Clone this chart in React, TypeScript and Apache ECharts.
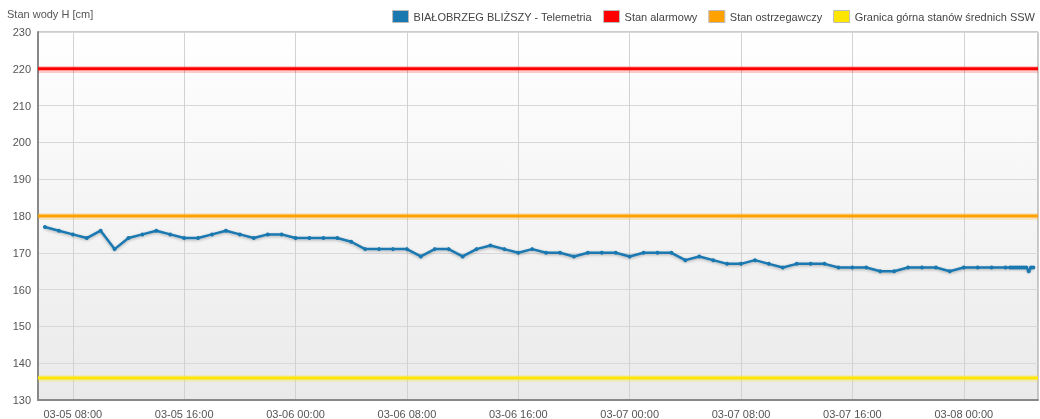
import React, { useEffect, useRef } from "react";
import * as echarts from "echarts";

// ---- data ----
const axisStart = { month: 3, day: 5, hour: 5, minute: 30 }; // left edge of the time axis
const axisStepMinutes = 10;
const axisSlots = 432; // 10-minute slots up to 03-08 05:20

const hourlyStart = "03-05 06:00";
const hourlyValues = [
  // 03-05 06:00 .. 23:00
  177, 176, 175, 174, 176, 171, 174, 175, 176, 175, 174, 174, 175, 176, 175, 174, 175, 175,
  // 03-06 00:00 .. 23:00
  174, 174, 174, 174, 173, 171, 171, 171, 171, 169, 171, 171, 169, 171, 172, 171, 170, 171, 170, 170, 169, 170, 170, 170,
  // 03-07 00:00 .. 23:00
  169, 170, 170, 170, 168, 169, 168, 167, 167, 168, 167, 166, 167, 167, 167, 166, 166, 166, 165, 165, 166, 166, 166, 165,
  // 03-08 00:00 .. 03:00
  166, 166, 166, 166,
];
const tailStart = "03-08 03:20";
const tailValues = [166, 166, 166, 166, 166, 166, 166, 166, 165, 166, 166]; // every 10 min

const alarmLevel = 220;
const warningLevel = 180;
const sswLevel = 136;

const seriesNames = [
  "BIAŁOBRZEG BLIŻSZY - Telemetria",
  "Stan alarmowy",
  "Stan ostrzegawczy",
  "Granica górna stanów średnich SSW",
];
const seriesColors = ["#1a78b0", "#ff0000", "#ffa200", "#ffe600"];
const labelHours = [0, 8, 16];

// ---- helpers ----
const pad = (n: number) => String(n).padStart(2, "0");
const fmt = (d: Date) =>
  `${pad(d.getUTCMonth() + 1)}-${pad(d.getUTCDate())} ${pad(d.getUTCHours())}:${pad(d.getUTCMinutes())}`;
const base = Date.UTC(2024, axisStart.month - 1, axisStart.day, axisStart.hour, axisStart.minute);
const categories: string[] = [];
for (let i = 0; i < axisSlots; i++) categories.push(fmt(new Date(base + i * axisStepMinutes * 60000)));

const idxOf = (label: string) => categories.indexOf(label);
const seq = (startLabel: string, values: number[], stepSlots: number) => {
  const s = idxOf(startLabel);
  return values.map((v, i) => [categories[s + i * stepSlots], v]);
};
const telemetry = [...seq(hourlyStart, hourlyValues, 6), ...seq(tailStart, tailValues, 1)];
const flat = (v: number) => [
  [categories[0], v],
  [categories[categories.length - 1], v],
];

const isMajor = (_i: number, value: string) => {
  const hm = value.slice(6);
  const h = parseInt(hm.slice(0, 2), 10);
  const m = parseInt(hm.slice(3), 10);
  return m === 0 && labelHours.includes(h);
};

const FONT = "Liberation Sans, Arial, sans-serif";

export default function App() {
  const ref = useRef<HTMLDivElement>(null);
  useEffect(() => {
    document.body.style.margin = "0";
    const chart = echarts.init(ref.current!, undefined, { renderer: "svg" });
    const thr = (name: string, color: string, v: number) => ({
      name,
      type: "line",
      data: flat(v),
      symbol: "none",
      z: 3,
      color,
      lineStyle: { color, width: 3 },
      silent: true,
      markLine: {
        silent: true,
        symbol: "none",
        label: { show: false },
        lineStyle: { color, width: 7, opacity: 0.2, type: "solid" },
        data: [{ yAxis: v }],
      },
    });
    chart.setOption({
      animation: false,
      textStyle: { fontFamily: FONT },
      title: {
        text: "Stan wody H [cm]",
        left: 2,
        top: 3,
        textStyle: { fontSize: 11, fontWeight: "normal", color: "#555", fontFamily: FONT },
      },
      legend: {
        right: 0,
        top: 5,
        icon: "rect",
        itemWidth: 16,
        itemHeight: 12,
        itemGap: 11,
        textStyle: { fontSize: 11, color: "#444", fontFamily: FONT },
        itemStyle: { borderColor: "#bbb", borderWidth: 1 },
        data: seriesNames,
      },
      grid: {
        left: 38,
        right: 2,
        top: 32,
        bottom: 16,
        show: true,
        borderColor: "#999",
        borderWidth: 1,
        backgroundColor: new echarts.graphic.LinearGradient(0, 0, 0, 1, [
          { offset: 0, color: "#ffffff" },
          { offset: 1, color: "#eaeaea" },
        ]),
      },
      xAxis: {
        type: "category",
        data: categories,
        boundaryGap: false,
        axisLine: { lineStyle: { color: "#888", width: 2 } },
        axisTick: { show: false },
        axisLabel: {
          interval: isMajor,
          fontSize: 11,
          color: "#555",
          margin: 8,
          fontFamily: FONT,
        },
        splitLine: { show: true, interval: isMajor, lineStyle: { color: "#d2d2d2", width: 1 } },
      },
      yAxis: {
        type: "value",
        min: 130,
        max: 230,
        interval: 10,
        axisLine: { show: true, lineStyle: { color: "#888", width: 2 } },
        axisTick: { show: false },
        axisLabel: { fontSize: 11, color: "#555", margin: 7, fontFamily: FONT },
        splitLine: { lineStyle: { color: "#d8d8d8", width: 1 } },
      },
      series: [
        {
          name: seriesNames[0],
          type: "line",
          data: telemetry,
          color: seriesColors[0],
          symbol: "circle",
          symbolSize: 4,
          showSymbol: true,
          showAllSymbol: true,
          z: 5,
          lineStyle: {
            color: seriesColors[0],
            width: 2.5,
            shadowColor: "rgba(0,0,0,0.3)",
            shadowBlur: 3,
            shadowOffsetY: 1,
          },
          itemStyle: { color: seriesColors[0] },
        },
        thr(seriesNames[1], seriesColors[1], alarmLevel),
        thr(seriesNames[2], seriesColors[2], warningLevel),
        thr(seriesNames[3], seriesColors[3], sswLevel),
      ],
    });
    return () => chart.dispose();
  }, []);
  return (
    <div
      ref={ref}
      style={{ position: "fixed", left: 0, top: 0, width: 1040, height: 419 }}
    />
  );
}
